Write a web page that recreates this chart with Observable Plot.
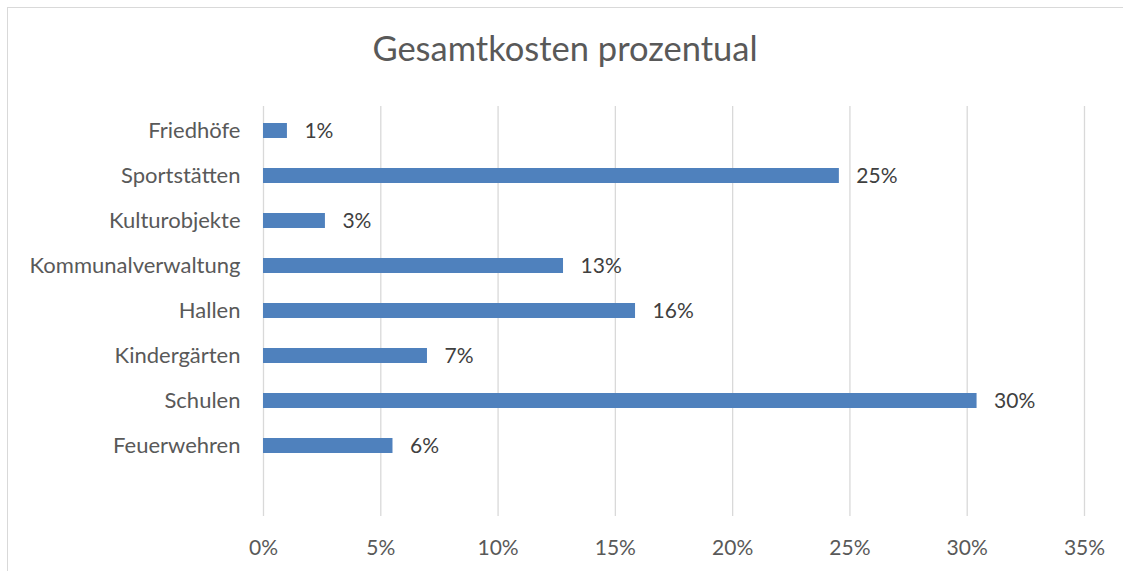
<!DOCTYPE html>
<html>
<head>
<meta charset="utf-8">
<script src="https://cdn.jsdelivr.net/npm/d3@7"></script>
<script src="https://cdn.jsdelivr.net/npm/@observablehq/plot@0.6"></script>
<style>
  html, body { margin: 0; padding: 0; background: #fff; }
  body { width: 1123px; height: 571px; position: relative; overflow: hidden; font-family: Lato, "Open Sans", sans-serif; }
  #frame { position: absolute; left: 7px; top: 7px; width: 1140px; height: 600px; border: 1.5px solid #d9d9d9; box-sizing: border-box; }
  #title { position: absolute; left: 0; top: 27px; width: 1130px; text-align: center; font-size: 34.5px; color: #595959; }
  #chart { position: absolute; left: 0; top: 90px; }
  #chart svg g[aria-label="y-axis tick label"] text { font-size: 22px; }
</style>
</head>
<body>
<div id="frame"></div>
<div id="title">Gesamtkosten prozentual</div>
<div id="chart"></div>
<script>
const categories = ["Friedhöfe", "Sportstätten", "Kulturobjekte", "Kommunalverwaltung", "Hallen", "Kindergärten", "Schulen", "Feuerwehren"];
const values = [1.02, 24.55, 2.64, 12.79, 15.86, 6.99, 30.42, 5.52];
const xTicks = [0, 5, 10, 15, 20, 25, 30, 35];

const data = categories.map((c, i) => ({category: c, value: values[i]}));

const chart = Plot.plot({
  width: 1123,
  height: 481,
  marginTop: 16,
  marginBottom: 55,
  marginLeft: 263,
  marginRight: 39,
  style: {fontFamily: "Lato, 'Open Sans', sans-serif", fontSize: "21px", color: "#595959", background: "transparent"},
  x: {domain: [0, 35], ticks: xTicks, tickFormat: d => d + "%", label: null, tickSize: 0, tickPadding: 24},
  y: {domain: [...categories, ""], paddingInner: 0.66, paddingOuter: 0.33, label: null, tickSize: 0, tickPadding: 23},
  marks: [
    Plot.ruleX(xTicks, {stroke: "#d9d9d9", strokeWidth: 1.3}),
    Plot.barX(data, {x: "value", y: "category", fill: "#4f81bd"}),
    Plot.text(data, {x: "value", y: "category", text: d => Math.round(d.value) + "%", textAnchor: "start", dx: 17, fontSize: 21, fill: "#404040"})
  ]
});
document.getElementById("chart").appendChild(chart);
</script>
</body>
</html>
